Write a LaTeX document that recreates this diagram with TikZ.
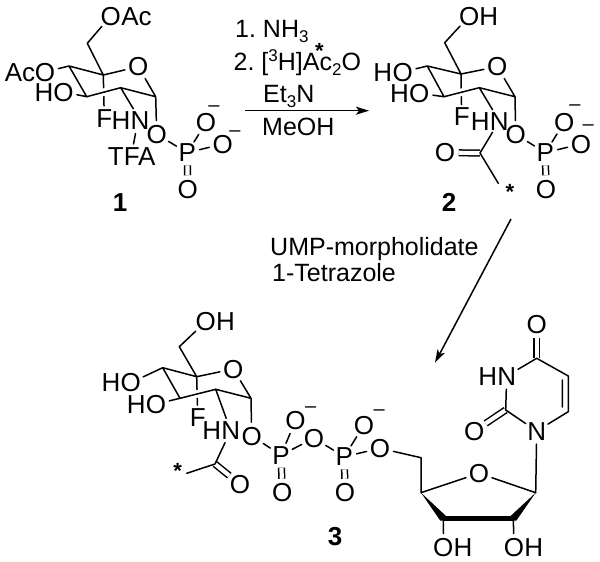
\documentclass[tikz,border=0pt]{standalone}
\usepackage{fontspec}
\setmainfont{Liberation Sans}
\usetikzlibrary{arrows.meta,calc}
\frenchspacing
\newcommand{\lowtxt}[1]{\raisebox{-5pt}{\fontsize{17}{17}\selectfont #1}}
\newcommand{\hightxt}[1]{\raisebox{8.5pt}{\fontsize{17}{17}\selectfont #1}}
\tikzset{
  atom/.style={circle,inner sep=0pt,text height=18pt,text depth=0pt,font=\fontsize{26}{26}\selectfont},
  part/.style={inner sep=0pt,text height=18pt,text depth=0pt,font=\fontsize{26}{26}\selectfont},
  reagent/.style={inner sep=0pt,anchor=base west,font=\fontsize{25}{25}\selectfont},
  cmpd/.style={inner sep=0pt,font=\fontsize{26}{26}\selectfont\bfseries},
  chg/.style={inner sep=0pt,font=\fontsize{20}{20}\selectfont},
  star/.style={inner sep=0pt,font=\fontsize{22}{22}\selectfont\bfseries},
  bond/.style={line width=1.5pt,line cap=round,line join=round},
  dbl/.style={line width=1.5pt,double,double distance=4.2pt},
  halo/.style={bond,preaction={draw=white,line width=7.5pt,line cap=butt}},
  rxn/.style={line width=1.5pt,-{Stealth[length=13pt,width=8pt,inset=3pt]}},
}
\begin{document}
\begin{tikzpicture}[x=1pt,y=-1pt]
\useasboundingbox[fill=white] (0,0) rectangle (600,562);

% ---------- compound 1
\coordinate (a6) at (87.3,43.3);
\coordinate (a5) at (103.3,75);
\coordinate (a1) at (155.7,96.7);
\coordinate (a2) at (120.7,87.7);
\coordinate (a3) at (86.7,96.7);
\coordinate (a4) at (69,66);
\node[atom] (aO6) at (110.7,16) {O};
\node[part] (aAc6) at (136.5,16) {Ac};
\node[atom] (aOr) at (138.3,66.7) {O};
\node[atom] (aO4) at (45,72) {O};
\node[part] (aAc4) at (20,72) {Ac};
\node[atom] (aO3) at (63.5,92) {O};
\node[part] (aH3) at (44,92) {H};
\node[atom] (aF) at (104.3,118) {F};
\node[part] (aH) at (121,120) {H};
\node[atom] (aN) at (140,120) {N};
\node[part] (aTFA) at (131.7,156.7) {TFA};
\node[atom] (aO1) at (156.7,134.3) {O};
\node[atom] (aP) at (187.3,152.7) {P};
\node[atom] (aOa) at (206,122.7) {O};
\node[chg] at (214,109) {–};
\node[atom] (aOb) at (222.7,144) {O};
\node[chg] at (235,134) {–};
\node[atom] (aOc) at (187.7,189) {O};
\node[cmpd] at (120,202.7) {1};
\coordinate (aTFAtop) at (135.5,133.5);
\coordinate (aTFAbot) at (133.5,144);
\draw[bond] (a5) -- (aF);
\draw[halo] (a2) -- (a3);
\draw[dbl] (aP) -- (aOc);
\draw[bond] (aO6) -- (a6) -- (a5) -- (aOr) -- (a1) -- (a2) (a3) -- (a4) -- (a5)
  (a4) -- (aO4) (a3) -- (aO3) (a2) -- (aN) (a1) -- (aO1) (aO1) -- (aP)
  (aP) -- (aOa) (aP) -- (aOb) (aTFAtop) -- (aTFAbot);

% ---------- compound 2
\coordinate (b6) at (444.7,42.7);
\coordinate (b5) at (461,74);
\coordinate (b1) at (515,96.7);
\coordinate (b2) at (479.3,87.7);
\coordinate (b3) at (444,96.7);
\coordinate (b4) at (427.3,66);
\coordinate (bC) at (480,153);
\coordinate (bMe) at (498.3,183.3);
\node[atom] (bO6) at (469.3,16) {O};
\node[part] (bH6) at (488.8,16) {H};
\node[atom] (bOr) at (497.3,66.7) {O};
\node[atom] (bO4) at (402.7,72) {O};
\node[part] (bH4) at (382.8,72) {H};
\node[atom] (bO3) at (419.3,93.3) {O};
\node[part] (bH3) at (399.5,93.3) {H};
\node[atom] (bF) at (461.7,116.7) {F};
\node[part] (bH) at (480.2,121) {H};
\node[atom] (bN) at (499.3,121) {N};
\node[atom] (bO1) at (515.7,134.3) {O};
\node[atom] (bP) at (545.3,152.7) {P};
\node[atom] (bOa) at (564.3,122.3) {O};
\node[chg] at (575,107.3) {–};
\node[atom] (bOb) at (581,144) {O};
\node[chg] at (588.3,128) {–};
\node[atom] (bOc) at (546,189) {O};
\node[atom] (bOd) at (445,152.7) {O};
\node[star] (bS) at (510,191.5) {*};
\node[cmpd] at (449,202.7) {2};
\draw[bond] (b5) -- (bF);
\draw[halo] (b2) -- (b3);
\draw[dbl] (bP) -- (bOc);
\draw[dbl] (bC) -- (bOd);
\draw[bond] (bO6) -- (b6) -- (b5) -- (bOr) -- (b1) -- (b2) (b3) -- (b4) -- (b5)
  (b4) -- (bO4) (b3) -- (bO3) (b2) -- (bN) (b1) -- (bO1) (bO1) -- (bP)
  (bP) -- (bOa) (bP) -- (bOb) (bN) -- (bC) -- (bMe);

% ---------- reaction text and arrows
\node[reagent] (r1) at (235,37.7) {1. NH\lowtxt{3}};
\node[reagent] (r2) at (233.5,70) {2. [\hightxt{3}H]Ac\lowtxt{2}O};
\node[star] (r2s) at (319.3,51) {*};
\node[reagent] (r3) at (263,102) {Et\lowtxt{3}N};
\node[reagent] (r4) at (262,135) {MeOH};
\node[reagent] (r5) at (270,255) {UMP-morpholidate};
\node[reagent] (r6) at (272,281) {1-Tetrazole};
\coordinate (s1) at (245,110.7);
\coordinate (e1) at (369,110.7);
\coordinate (s2) at (511,219);
\coordinate (e2) at (435,362.7);
\draw[rxn] (s1) -- (e1);
\draw[rxn] (s2) -- (e2);

% ---------- compound 3, sugar
\coordinate (c6) at (179.3,346.7);
\coordinate (c5) at (196.7,376.7);
\coordinate (c1) at (251,398.3);
\coordinate (c2) at (215.7,389.3);
\coordinate (c3) at (180,398.3);
\coordinate (c4) at (162.7,367.7);
\coordinate (cC) at (215,464);
\coordinate (cMe) at (186.7,473.3);
\node[atom] (cO6) at (205.7,321.7) {O};
\node[part] (cH6) at (225.5,321.7) {H};
\node[atom] (cOr) at (233.3,369) {O};
\node[atom] (cO4) at (130.7,382.7) {O};
\node[part] (cH4) at (111,382.7) {H};
\node[atom] (cO3) at (156,404) {O};
\node[part] (cH3) at (136.2,404) {H};
\node[atom] (cF) at (197.7,417.3) {F};
\node[part] (cH) at (211.8,430.7) {H};
\node[atom] (cN) at (230.7,430.7) {N};
\node[atom] (cO1) at (251.7,436) {O};
\node[atom] (cP1) at (281,455) {P};
\node[atom] (cOa) at (295.5,420.8) {O};
\node[chg] at (310.7,409.3) {–};
\node[atom] (cOb) at (314,438.3) {O};
\node[atom] (cP2) at (344.3,456.7) {P};
\node[atom] (cOc) at (364,425) {O};
\node[chg] at (379.3,412.7) {–};
\node[atom] (cOd) at (380,448.3) {O};
\node[atom] (cOe) at (345,492.5) {O};
\node[atom] (cOf) at (282.3,492.5) {O};
\node[atom] (cOg) at (240,484.3) {O};
\node[star] (cS) at (177.7,471) {*};
\node[cmpd] at (335,537) {3};
\draw[bond] (c5) -- (cF);
\draw[halo] (c2) -- (c3);
\draw[dbl] (cP1) -- (cOf);
\draw[dbl] (cP2) -- (cOe);
\draw[dbl] (cC) -- (cOg);
\draw[bond] (cO6) -- (c6) -- (c5) -- (cOr) -- (c1) -- (c2) (c3) -- (c4) -- (c5)
  (c4) -- (cO4) (c3) -- (cO3) (c2) -- (cN) (c1) -- (cO1) (cO1) -- (cP1)
  (cP1) -- (cOa) (cP1) -- (cOb) (cOb) -- (cP2) (cP2) -- (cOc) (cP2) -- (cOd)
  (cN) -- (cC) -- (cMe);

% ---------- ribose
\coordinate (d5) at (421,457.7);
\coordinate (d4) at (421,492.7);
\coordinate (d1) at (535.7,492.7);
\coordinate (d3) at (443.3,518.3);
\coordinate (d2) at (513.3,518.3);
\node[atom] (dOr) at (479,473.3) {O};
\node[atom] (dO3) at (443.3,547.3) {O};
\node[part] (dH3) at (463,547.3) {H};
\node[atom] (dO2) at (514,547.3) {O};
\node[part] (dH2) at (533.8,547.3) {H};
\draw[bond] (cOd) -- (d5) -- (d4) -- (dOr) -- (d1) (d3) -- (dO3) (d2) -- (dO2);
\fill (d4) -- ([shift={(2.6,-2.4)}]d3) -- ([shift={(2.6,2.4)}]d3) -- ([shift={(-3,2.4)}]d3) -- cycle;
\fill (d1) -- ([shift={(3,2.4)}]d2) -- ([shift={(-2.6,2.4)}]d2) -- ([shift={(-2.6,-2.4)}]d2) -- cycle;
\draw[line width=4.8pt] (d3) -- (d2);

% ---------- uracil
\coordinate (u2) at (505.7,410);
\coordinate (u4) at (536.7,358.3);
\coordinate (u5) at (568.3,376);
\coordinate (u6) at (568.3,411.7);
\coordinate (u5i) at (562.3,380);
\coordinate (u6i) at (562.3,407);
\node[atom] (uN1) at (536.7,431) {N};
\node[atom] (uN3) at (506.7,376) {N};
\node[part] (uH3) at (487.8,376) {H};
\node[atom] (uO2) at (474.3,431) {O};
\node[atom] (uO4) at (536.7,324.3) {O};
\draw[dbl] (u2) -- (uO2);
\draw[dbl] (u4) -- (uO4);
\draw[bond] (d1) -- (uN1) -- (u6) -- (u5) -- (u4) -- (uN3) -- (u2) -- (uN1) (u5i) -- (u6i);
\end{tikzpicture}
\end{document}
